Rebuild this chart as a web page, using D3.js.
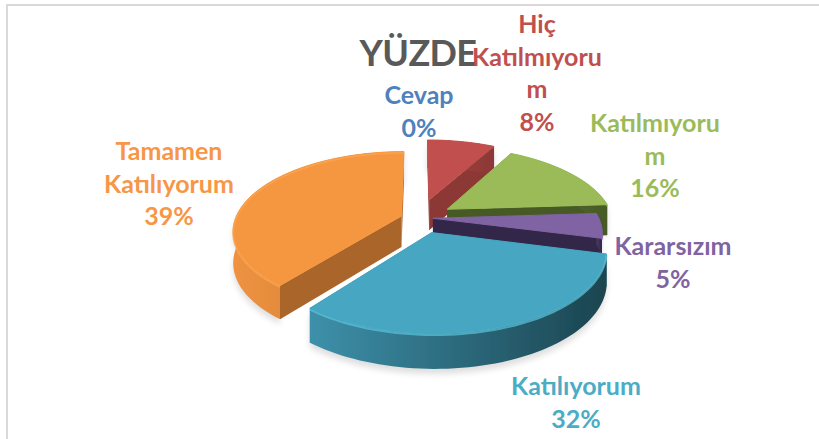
<!DOCTYPE html>
<html>

<head>
    <meta charset="utf-8">
    <style>
        html, body { margin: 0; padding: 0; background: #fff; overflow: hidden; }
        text { font-family: Lato, sans-serif; font-weight: 700; text-anchor: middle; }
    </style>
    <script src="https://cdn.jsdelivr.net/npm/d3@7"></script>
</head>

<body>
    <svg id="container" width="819" height="439"></svg>
</body>

<script>
    const title = "YÜZDE";
    const categories = ["Cevap", "Hiç Katılmıyorum", "Katılmıyorum", "Kararsızım", "Katılıyorum", "Tamamen Katılıyorum"];
    const values = [0, 8, 16, 5, 31.6, 39.4];
    // how the labels wrap in the original
    const labelLines = [["Cevap"], ["Hiç", "Katılmıyoru", "m"], ["Katılmıyoru", "m"], ["Kararsızım"], ["Katılıyorum"], ["Tamamen", "Katılıyorum"]];
    const topColors = ["#4f81bd", "#c0504d", "#9bbb59", "#8064a2", "#46a7c2", "#f59640"];
    const textColors = ["#4f81bd", "#c0504d", "#9bbb59", "#8064a2", "#4bacc6", "#f79646"];
    const radialColors = ["#3a5f8c", "#8c3836", "#465a26", "#33264a", "#2a6577", "#a9652a"];
    const wallFrom = ["#3a5f8c", "#a8423f", "#5c7032", "#4a3a63", "#3d90aa", "#ee9240"];
    const wallTo = ["#3a5f8c", "#8c3836", "#465a26", "#33264a", "#1b444f", "#c97b36"];
    const rimLight = ["#4f81bd", "#c0504d", "#9bbb59", "#8064a2", "#5cc4dc", "#fba552"];
    // how far each slice is pulled out, in plane units
    const pullX = [0, 0.07, 0.18, 0.09, 0.08, -0.1];
    const pullY = [0, -0.22, -0.09, 0.03, 0.21, 0];
    const labelX = [419, 537, 655, 673, 576, 169];
    const labelY = [104, 33, 132, 255, 395, 160];

    const svg = d3.select("#container");
    const lineHeight = 32.7;

    // frame of the chart area
    svg.append("path")
        .attr("d", "M7,439V5H819")
        .attr("fill", "none")
        .attr("stroke", "#d9d9d9")
        .attr("stroke-width", 2);

    const defs = svg.append("defs");
    defs.append("filter").attr("id", "soft")
        .attr("x", "-20%").attr("y", "-20%").attr("width", "140%").attr("height", "140%")
        .append("feGaussianBlur").attr("stdDeviation", 0.5);
    defs.append("filter").attr("id", "shadow")
        .attr("x", "-20%").attr("y", "-20%").attr("width", "140%").attr("height", "140%")
        .append("feGaussianBlur").attr("stdDeviation", 3);

    // Pie layout, clockwise from twelve o'clock
    const pie = d3.pie().sort(null).value((d) => d.value);
    const slices = pie(values.map((value, i) => ({ value, i })));

    // Tilted plane with a bit of perspective
    const cx = 418, cy = 216, rx = 165, ry = 76, persp = 0.18, depth = 31;
    const scaleX = d3.scaleLinear().domain([-1, 1]).range([-rx, rx]);
    const scaleY = d3.scaleLinear().domain([-1, 1]).range([-ry, ry]);

    function project(x, y, z) {
        const w = 1 / (1 - persp * y);
        return [cx + scaleX(x) * w, cy + scaleY(y) * w + z * depth * (0.5 + 0.5 * w)];
    }

    const polygon = d3.line().x((d) => d[0]).y((d) => d[1]);

    function rimAngles(d) {
        return d3.range(0, 61).map((t) => d.startAngle + (d.endAngle - d.startAngle) * t / 60);
    }

    const pieGroup = svg.append("g").attr("filter", "url(#soft)");

    slices.filter((d) => d.value > 0).forEach((d) => {
        const i = d.data.i;
        const rim = (a, z) => project(pullX[i] + Math.sin(a), pullY[i] - Math.cos(a), z);
        const apex = (z) => project(pullX[i], pullY[i], z);
        const angles = rimAngles(d);

        const topFace = [apex(0), ...angles.map((a) => rim(a, 0))];
        const outerWall = [...angles.map((a) => rim(a, 0)), ...angles.slice().reverse().map((a) => rim(a, 1))];
        const startWall = [apex(0), rim(d.startAngle, 0), rim(d.startAngle, 1), apex(1)];
        const endWall = [apex(0), rim(d.endAngle, 0), rim(d.endAngle, 1), apex(1)];

        const xs = outerWall.map((p) => p[0]);
        const grad = defs.append("linearGradient")
            .attr("id", `wall${i}`)
            .attr("gradientUnits", "userSpaceOnUse")
            .attr("x1", d3.min(xs)).attr("x2", d3.max(xs))
            .attr("y1", 0).attr("y2", 0);
        grad.append("stop").attr("offset", 0).attr("stop-color", wallFrom[i]);
        grad.append("stop").attr("offset", 1).attr("stop-color", wallTo[i]);

        // soft shadow on the page under the slice
        pieGroup.append("path")
            .attr("d", polygon(outerWall.map((p) => [p[0], p[1] + 5])) + "Z")
            .attr("fill", "#000")
            .attr("opacity", 0.13)
            .attr("filter", "url(#shadow)");

        pieGroup.append("path").attr("d", polygon(startWall) + "Z").attr("fill", radialColors[i]);
        pieGroup.append("path").attr("d", polygon(endWall) + "Z").attr("fill", radialColors[i]);
        pieGroup.append("path").attr("d", polygon(outerWall) + "Z").attr("fill", `url(#wall${i})`);
        pieGroup.append("path").attr("d", polygon(topFace) + "Z")
            .attr("fill", topColors[i])
            .attr("stroke", topColors[i])
            .attr("stroke-width", 1)
            .attr("stroke-linejoin", "round");
        // bevel highlight along the rim
        pieGroup.append("path")
            .attr("d", polygon(angles.map((a) => rim(a, 0.04))))
            .attr("fill", "none")
            .attr("stroke", rimLight[i])
            .attr("stroke-width", 2)
            .attr("opacity", 0.7);
    });

    // Title
    svg.append("text")
        .attr("x", 418)
        .attr("y", 66)
        .attr("fill", "#595959")
        .style("font-size", "36px")
        .style("letter-spacing", "-0.6px")
        .text(title);

    // Data labels
    categories.forEach((c, i) => {
        const lines = [...labelLines[i], `${Math.round(values[i])}%`];
        const label = svg.append("text")
            .attr("fill", textColors[i])
            .style("font-size", "25px")
            .attr("data-category", c);
        lines.forEach((line, j) => {
            label.append("tspan")
                .attr("x", labelX[i])
                .attr("y", labelY[i] + j * lineHeight)
                .text(line);
        });
    });
</script>

</html>
